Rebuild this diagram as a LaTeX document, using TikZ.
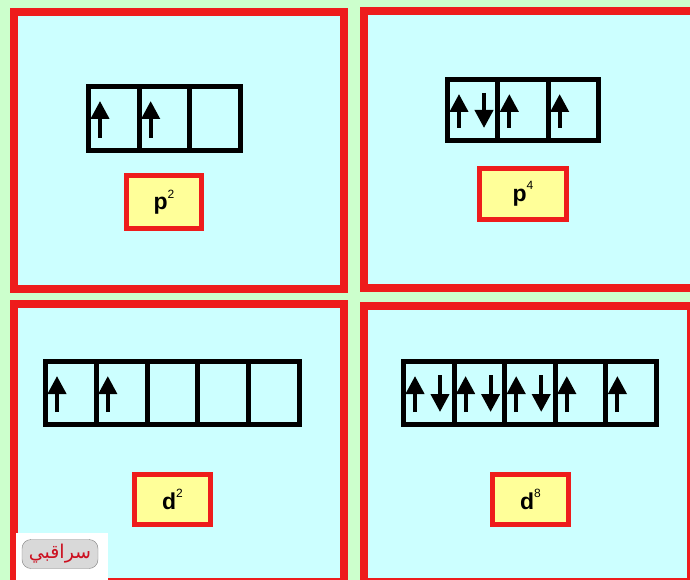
\documentclass[tikz,border=0pt]{standalone}
\usepackage{fontspec}
\setmainfont{Liberation Sans}
\newfontfamily\arabicfont[Script=Arabic]{DejaVu Sans}
\TeXXeTstate=1
\usetikzlibrary{arrows.meta,calc,positioning}
\definecolor{PanRed}{HTML}{EE1C1C}
\definecolor{PanCyan}{HTML}{CCFFFF}
\definecolor{PanGreen}{HTML}{CCFFCC}
\definecolor{TagYellow}{HTML}{FFFF99}
\definecolor{BtnGray}{HTML}{D9D9D9}
\definecolor{WmRed}{HTML}{CC1020}
\tikzset{
  panel/.style={draw=PanRed,fill=PanCyan,line width=8pt},
  cell/.style={draw=black,line width=5pt,inner sep=0pt},
  tag/.style={draw=PanRed,fill=TagYellow,line width=5pt,inner sep=0pt,
    font=\bfseries\fontsize{23}{23}\selectfont},
  spin/.style={line width=4pt,-{Triangle[length=18pt,width=18pt]}}
}
\newcommand{\Cfg}[2]{#1\raisebox{.5em}{\mdseries\fontsize{12}{12}\selectfont #2}}
% one row of orbital cells: name, left x, centre y, cell width, cell height, count
\newcommand{\OrbRow}[6]{%
  \foreach \k in {1,...,#6}
    \node[cell,minimum width=#4pt,minimum height=#5pt] (#1\k) at ({#2+(\k-0.5)*#4},#3) {};}
\newcommand{\SpinUp}[1]{%
  \draw[spin] ([xshift=14pt,yshift=15pt]#1.south west) -- ([xshift=14pt,yshift=-17pt]#1.north west);}
\newcommand{\SpinDn}[1]{%
  \draw[spin] ([xshift=39pt,yshift=-16pt]#1.north west) -- ([xshift=39pt,yshift=15pt]#1.south west);}

\begin{document}
\begin{tikzpicture}[x=1pt,y=-1pt]
  \useasboundingbox (0,0) rectangle (690,580);
  \clip (0,0) rectangle (690,580);
  \fill[PanGreen] (0,0) rectangle (690,580);
  \draw[panel] (14,12) rectangle (344,289);
  \draw[panel] (364,11) rectangle (700,288);
  \draw[panel] (14,304) rectangle (344,582);
  \draw[panel] (364,306) rectangle (691,582);

  \OrbRow{pa}{88.5}{118.5}{50.67}{64}{3}
  \OrbRow{pb}{447.5}{110}{50.33}{61}{3}
  \OrbRow{da}{45.5}{393}{50.8}{63}{5}
  \OrbRow{db}{403.5}{393}{50.6}{63}{5}

  \foreach \c in {pa1,pa2,pb1,pb2,pb3,da1,da2,db1,db2,db3,db4,db5} {\SpinUp{\c}}
  \foreach \c in {pb1,db1,db2,db3} {\SpinDn{\c}}

  \node[tag,minimum width=75pt,minimum height=53pt] (patag) at (164,202) {\Cfg{p}{2}};
  \node[tag,minimum width=87pt,minimum height=51pt] (pbtag) at (523,194) {\Cfg{p}{4}};
  \node[tag,minimum width=76pt,minimum height=50pt] (datag) at (172.5,499.5) {\Cfg{d}{2}};
  \node[tag,minimum width=76pt,minimum height=50pt] (dbtag) at (530.5,499.5) {\Cfg{d}{8}};

  \node[fill=white,minimum width=92pt,minimum height=47pt,inner sep=0pt] (wmark) at (62,556.5) {};
  \node[draw=gray,fill=BtnGray,rounded corners=9pt,minimum width=76pt,minimum height=29pt,
    inner sep=0pt,text=WmRed,font=\arabicfont\fontsize{19}{19}\selectfont] (wbtn) at (60,554)
    {\beginR سراقبي\endR};
\end{tikzpicture}
\end{document}
